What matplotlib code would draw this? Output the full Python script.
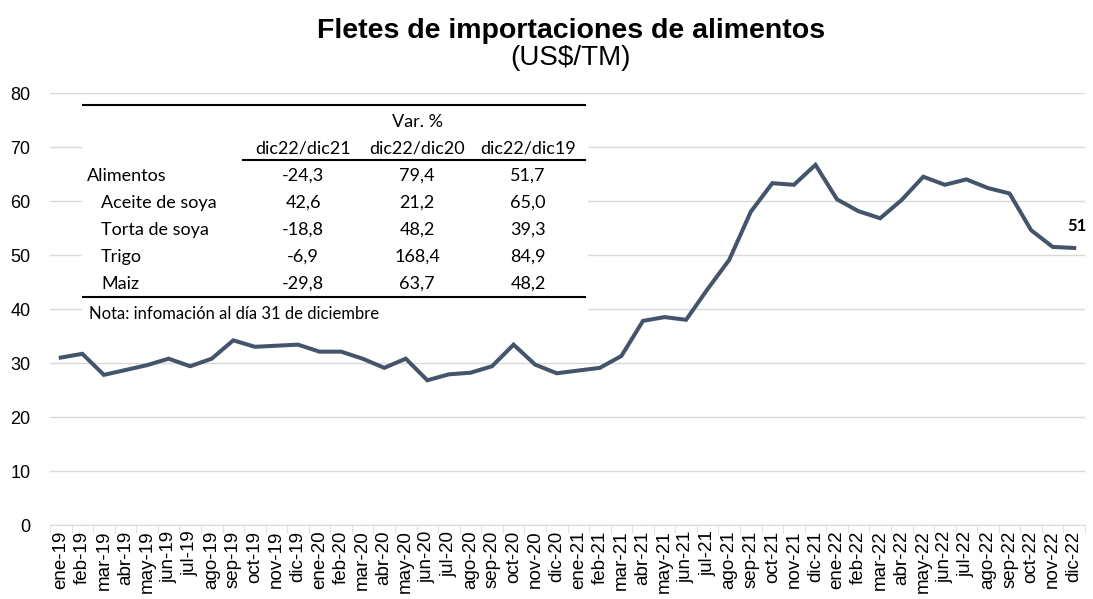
import numpy as np
import matplotlib.pyplot as plt
from matplotlib.lines import Line2D
from matplotlib.patches import Rectangle

# data
meses = ['ene', 'feb', 'mar', 'abr', 'may', 'jun', 'jul', 'ago', 'sep', 'oct', 'nov', 'dic']
etiquetas = [m + '-' + a for a in ['19', '20', '21', '22'] for m in meses]
fletes = [31.0, 31.7, 27.8, 28.7, 29.6, 30.8, 29.4, 30.8, 34.2, 33.0, 33.2, 33.4,
          32.1, 32.1, 30.8, 29.1, 30.8, 26.8, 27.9, 28.2, 29.4, 33.4, 29.7, 28.1,
          28.6, 29.1, 31.3, 37.8, 38.5, 38.0, 43.7, 49.1, 58.0, 63.3, 63.0, 66.7,
          60.3, 58.1, 56.8, 60.2, 64.5, 63.0, 64.0, 62.4, 61.4, 54.6, 51.5, 51.3]
ultimo = '51'

tabla_cols = ['dic22/dic21', 'dic22/dic20', 'dic22/dic19']
tabla_filas = ['Alimentos', 'Aceite de soya', 'Torta de soya', 'Trigo', 'Maiz']
tabla_vals = [['-24,3', '79,4', '51,7'],
              ['42,6', '21,2', '65,0'],
              ['-18,8', '48,2', '39,3'],
              ['-6,9', '168,4', '84,9'],
              ['-29,8', '63,7', '48,2']]
nota = 'Nota: infomación al día 31 de diciembre'

W, H = 1093, 599
fig = plt.figure(figsize=(W / 100, H / 100), dpi=100)
ax = fig.add_axes([50 / W, 1 - 525 / H, (1085 - 50) / W, (525 - 93) / H])

x = np.arange(len(fletes))
color = '#44546A'
ax.plot(x, fletes, color=color, lw=2.9, solid_joinstyle='miter', zorder=3)
ax.annotate(ultimo, (x[-1], fletes[-1]), xytext=(2, 16), textcoords='offset points',
            fontsize=12, fontweight='bold', family='Lato', ha='center', va='center')

ax.set_xlim(-0.5, len(fletes) - 0.5)
ax.set_ylim(0, 80)
ax.set_yticks(range(0, 81, 10))
ax.set_xticks(x)
ax.set_xticklabels(etiquetas, rotation=90, family='Liberation Sans', fontsize=13.5)
ax.set_xticks(np.arange(-0.5, len(fletes), 1), minor=True)
ax.tick_params(axis='x', which='major', length=0, pad=4)
ax.tick_params(axis='x', which='minor', length=6, color='#d9d9d9')
ax.tick_params(axis='y', length=0, pad=14, labelsize=13)
for lbl in ax.get_yticklabels():
    lbl.set_family('Liberation Sans')
ax.grid(axis='y', color='#d9d9d9', lw=1)
ax.set_axisbelow(True)
for s in ['top', 'right', 'left']:
    ax.spines[s].set_visible(False)
ax.spines['bottom'].set_color('#d9d9d9')

# titulo
fig.text(571 / W, 1 - 31 / H, 'Fletes de importaciones de alimentos', ha='center', va='center',
         fontsize=20.5, fontweight='bold', family='Liberation Sans')
fig.text(571 / W, 1 - 58 / H, '(US$/TM)', ha='center', va='center',
         fontsize=20, family='Liberation Sans')

# tabla
def px(xp, yp):
    return xp / W, 1 - yp / H

fig.patches.append(Rectangle(px(82, 326), 506 / W, (326 - 98) / H, transform=fig.transFigure,
                             facecolor='white', edgecolor='none', zorder=4))
fig.lines.append(Line2D([83 / W, 585 / W], [1 - 105 / H] * 2, transform=fig.transFigure,
                        color='black', lw=1.5, zorder=5))
fig.lines.append(Line2D([243 / W, 585 / W], [1 - 160 / H] * 2, transform=fig.transFigure,
                        color='black', lw=1.5, zorder=5))
fig.lines.append(Line2D([83 / W, 585 / W], [1 - 297 / H] * 2, transform=fig.transFigure,
                        color='black', lw=1.5, zorder=5))
tfont = dict(family='Lato', fontsize=13, zorder=6, va='center')
col_x = [303, 417, 528]
fig.text(*px(417, 122), 'Var. %', ha='center', **tfont)
for cx, c in zip(col_x, tabla_cols):
    fig.text(*px(cx, 148), c, ha='center', **tfont)
for i, (fila, vals) in enumerate(zip(tabla_filas, tabla_vals)):
    yy = 176 + i * 27
    fig.text(*px(87 if i == 0 else 101, yy), fila, ha='left', **tfont)
    for cx, v in zip(col_x, vals):
        fig.text(*px(cx, yy), v, ha='center', **tfont)
fig.text(*px(89, 314), nota, ha='left', family='Lato', fontsize=12, zorder=6, va='center')

fig.savefig('out.png', dpi=100)
